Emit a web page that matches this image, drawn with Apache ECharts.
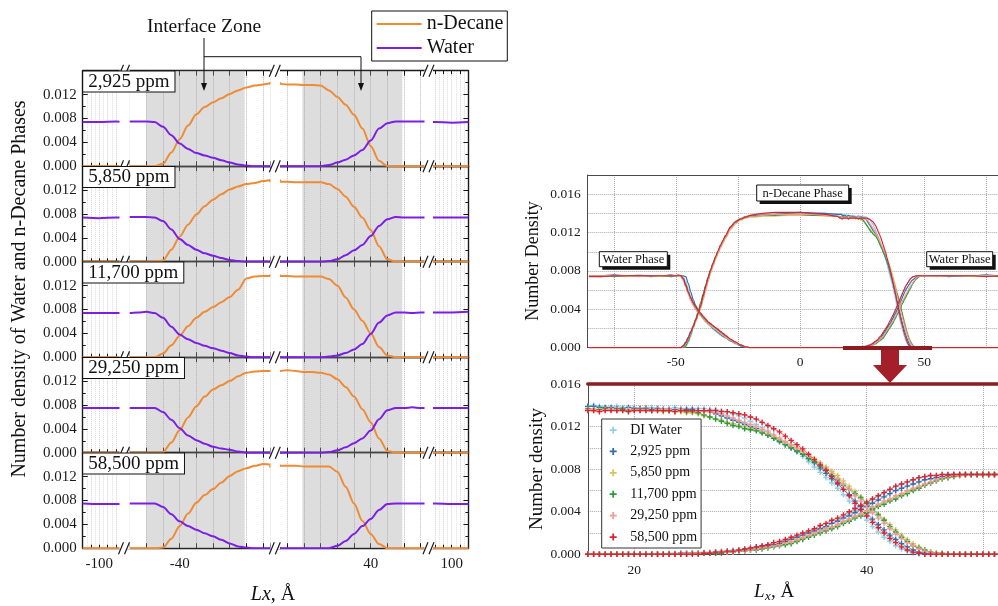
<!DOCTYPE html>
<html>
<head>
<meta charset="utf-8">
<script src="https://cdn.jsdelivr.net/npm/echarts@6.0.0/dist/echarts.min.js"></script>
<style>
  html, body { margin: 0; padding: 0; background: #fff; }
  #c { width: 998px; height: 606px; }
</style>
</head>
<body>
<div id="c"></div>
<script>
// ---------------- Left figure: density profiles per salinity ----------------
const panelLabels = ['2,925 ppm', '5,850 ppm', '11,700 ppm', '29,250 ppm', '58,500 ppm'];
const lxTickLabels = [-100, -40, 40, 100];
const interfaceZones = [[-50, -20.5], [19.5, 49.5]];

// Lx positions (Å): outer-left, middle-left, middle-right, outer-right pieces of the broken axis
const lxPos = [
  -105, -100, -95, -92.5,
  -55, -52.5, -50, -47.5, -45, -42.5, -40, -37.5, -35, -32.5, -30, -27.5, -25, -22.5, -20, -17.5, -15, -12.5, -10,
  10, 12.5, 15, 17.5, 20, 22.5, 25, 27.5, 30, 32.5, 35, 37.5, 40, 42.5, 45, 47.5, 50, 52.5, 55, 57.5,
  92.5, 95, 100, 105
];

const panelDecane = [
  [0, 0, 0, 0,
   0, 0, 0, 0, 0.0004, 0.0023, 0.0045, 0.0068, 0.0087, 0.0099, 0.0107, 0.0114, 0.0121, 0.0127, 0.0132, 0.0135, 0.0137, 0.0139, 0.0139,
   0.0139, 0.0138, 0.0137, 0.0137, 0.0136, 0.0136, 0.0135, 0.0127, 0.0116, 0.0103, 0.0086, 0.0063, 0.0034, 0.0009, 0, 0, 0, 0, 0, 0,
   0, 0, 0, 0],
  [0, 0, 0, 0,
   0, 0, 0, 0, 0.0002, 0.0020, 0.0042, 0.0062, 0.0079, 0.0093, 0.0104, 0.0113, 0.0121, 0.0126, 0.0130, 0.0132, 0.0135, 0.0137, 0.0136,
   0.0135, 0.0134, 0.0134, 0.0133, 0.0133, 0.0133, 0.0133, 0.0130, 0.0122, 0.0109, 0.0092, 0.0074, 0.0053, 0.0026, 0.0004, 0, 0, 0, 0, 0,
   0, 0, 0, 0],
  [0, 0, 0, 0,
   0, 0, 0, 0, 0.0006, 0.0020, 0.0036, 0.0052, 0.0066, 0.0076, 0.0084, 0.0092, 0.0101, 0.0113, 0.0132, 0.0135, 0.0136, 0.0136, 0.0137,
   0.0137, 0.0136, 0.0136, 0.0135, 0.0135, 0.0135, 0.0135, 0.0131, 0.0120, 0.0100, 0.0080, 0.0061, 0.0040, 0.0017, 0.0003, 0, 0, 0, 0, 0,
   0, 0, 0, 0],
  [0, 0, 0, 0,
   0, 0, 0, 0, 0.0001, 0.0017, 0.0038, 0.0059, 0.0078, 0.0094, 0.0106, 0.0113, 0.0120, 0.0128, 0.0134, 0.0136, 0.0137, 0.0137, 0.0137,
   0.0137, 0.0137, 0.0138, 0.0137, 0.0135, 0.0135, 0.0134, 0.0131, 0.0123, 0.0110, 0.0094, 0.0073, 0.0051, 0.0024, 0.0003, 0, 0, 0, 0, 0,
   0, 0, 0, 0],
  [0, 0, 0, 0,
   0, 0, 0, 0, 0.0001, 0.0016, 0.0037, 0.0058, 0.0076, 0.0089, 0.0099, 0.0110, 0.0121, 0.0129, 0.0134, 0.0138, 0.0141, 0.0140, 0.0138,
   0.0137, 0.0138, 0.0138, 0.0138, 0.0137, 0.0137, 0.0137, 0.0137, 0.0128, 0.0103, 0.0075, 0.0046, 0.0024, 0.0007, 0, 0, 0, 0, 0, 0,
   0, 0, 0, 0]
];

const panelWater = [
  [0.0074, 0.0074, 0.0075, 0.0074,
   0.0075, 0.0075, 0.0075, 0.0074, 0.0066, 0.0052, 0.0038, 0.0029, 0.0022, 0.0018, 0.0014, 0.0010, 0.0006, 0.0003, 0.0001, 0, 0, 0, 0,
   0, 0, 0, 0, 0, 0, 0, 0.0002, 0.0006, 0.0011, 0.0018, 0.0027, 0.0043, 0.0063, 0.0072, 0.0075, 0.0075, 0.0075, 0.0075, 0.0075,
   0.0074, 0.0074, 0.0073, 0.0074],
  [0.0074, 0.0073, 0.0074, 0.0074,
   0.0075, 0.0075, 0.0075, 0.0074, 0.0068, 0.0054, 0.0038, 0.0028, 0.0020, 0.0014, 0.0010, 0.0006, 0.0003, 0.0001, 0, 0, 0, 0, 0,
   0, 0, 0, 0, 0, 0, 0, 0.0001, 0.0004, 0.0011, 0.0019, 0.0028, 0.0043, 0.0060, 0.0071, 0.0075, 0.0074, 0.0074, 0.0074, 0.0074,
   0.0074, 0.0074, 0.0074, 0.0074],
  [0.0074, 0.0074, 0.0074, 0.0074,
   0.0074, 0.0075, 0.0076, 0.0074, 0.0066, 0.0051, 0.0038, 0.0030, 0.0024, 0.0019, 0.0015, 0.0011, 0.0007, 0.0003, 0.0001, 0, 0, 0, 0,
   0, 0, 0, 0, 0, 0, 0, 0.0001, 0.0003, 0.0007, 0.0013, 0.0022, 0.0039, 0.0058, 0.0070, 0.0075, 0.0075, 0.0074, 0.0075, 0.0075,
   0.0075, 0.0075, 0.0075, 0.0076],
  [0.0075, 0.0075, 0.0075, 0.0075,
   0.0075, 0.0075, 0.0075, 0.0075, 0.0068, 0.0055, 0.0041, 0.0029, 0.0021, 0.0015, 0.0010, 0.0007, 0.0005, 0.0002, 0, 0, 0, 0, 0,
   0, 0, 0, 0, 0, 0, 0, 0.0001, 0.0004, 0.0009, 0.0016, 0.0024, 0.0037, 0.0056, 0.0071, 0.0075, 0.0075, 0.0076, 0.0075, 0.0075,
   0.0075, 0.0075, 0.0075, 0.0075],
  [0.0075, 0.0074, 0.0074, 0.0074,
   0.0075, 0.0075, 0.0075, 0.0075, 0.0069, 0.0057, 0.0045, 0.0037, 0.0031, 0.0025, 0.0020, 0.0014, 0.0008, 0.0003, 0.0001, 0, 0, 0, 0,
   0, 0, 0, 0, 0, 0, 0, 0, 0.0004, 0.0012, 0.0024, 0.0037, 0.0049, 0.0064, 0.0074, 0.0075, 0.0075, 0.0075, 0.0075, 0.0075,
   0.0075, 0.0075, 0.0074, 0.0074]
];

// ---------------- Right figure: all salinities overlaid ----------------
const seriesNames = ['DI Water', '2,925 ppm', '5,850 ppm', '11,700 ppm', '29,250 ppm', '58,500 ppm'];
const seriesColors = ['#92cfe6', '#2f6db5', '#d8c25e', '#2a9a3c', '#f09a98', '#d9232f'];

const xLeft = [-85, -80, -75, -70, -65, -60, -55, -52, -50,
  -49, -48, -47, -46, -45, -44, -43, -42, -41, -40,
  -39, -38, -37, -36, -35, -34, -33, -32, -31, -30,
  -28, -26, -24, -22, -20, -18,
  -15, -10, -5, 0, 5, 10, 15];
const xZoom = [
  16, 16.5, 17, 17.5, 18, 18.5, 19, 19.5, 20, 20.5,
  21, 21.5, 22, 22.5, 23, 23.5, 24, 24.5, 25, 25.5,
  26, 26.5, 27, 27.5, 28, 28.5, 29, 29.5, 30, 30.5,
  31, 31.5, 32, 32.5, 33, 33.5, 34, 34.5, 35, 35.5,
  36, 36.5, 37, 37.5, 38, 38.5, 39, 39.5, 40, 40.5,
  41, 41.5, 42, 42.5, 43, 43.5, 44, 44.5, 45, 45.5,
  46, 46.5, 47, 47.5, 48, 48.5, 49, 49.5, 50, 50.5, 51, 51.5, 52];
const xTail = [55, 60, 65, 70, 75, 80, 85];

const decaneLeft = [
  [0, 0, 0, 0, 0, 0, 0, 0, 0,
   0, 0, 0, 0.0001, 0.0005, 0.0012, 0.0020, 0.0028, 0.0036, 0.0045,
   0.0055, 0.0065, 0.0074, 0.0082, 0.0089, 0.0095, 0.0101, 0.0107, 0.0112, 0.0117,
   0.0126, 0.0132, 0.0135, 0.0137, 0.0138, 0.0138,
   0.0139, 0.0139, 0.0140, 0.0140, 0.0141, 0.0140, 0.0139],
  [0, 0, 0, 0, 0, 0, 0, 0, 0,
   0, 0, 0.0002, 0.0006, 0.0011, 0.0017, 0.0023, 0.0029, 0.0035, 0.0043,
   0.0053, 0.0063, 0.0072, 0.0080, 0.0087, 0.0094, 0.0100, 0.0106, 0.0111, 0.0116,
   0.0125, 0.0131, 0.0134, 0.0136, 0.0137, 0.0138,
   0.0138, 0.0139, 0.0140, 0.0141, 0.0140, 0.0140, 0.0139],
  [0, 0, 0, 0, 0, 0, 0, 0, 0,
   0, 0, 0.0001, 0.0004, 0.0008, 0.0014, 0.0021, 0.0027, 0.0034, 0.0041,
   0.0050, 0.0060, 0.0069, 0.0078, 0.0085, 0.0092, 0.0098, 0.0104, 0.0109, 0.0114,
   0.0123, 0.0129, 0.0133, 0.0135, 0.0136, 0.0136,
   0.0137, 0.0137, 0.0138, 0.0138, 0.0138, 0.0137, 0.0137],
  [0, 0, 0, 0, 0, 0, 0, 0, 0,
   0, 0, 0, 0.0002, 0.0007, 0.0014, 0.0022, 0.0030, 0.0038, 0.0047,
   0.0056, 0.0065, 0.0073, 0.0081, 0.0088, 0.0094, 0.0100, 0.0106, 0.0111, 0.0116,
   0.0125, 0.0131, 0.0134, 0.0136, 0.0137, 0.0137,
   0.0138, 0.0138, 0.0139, 0.0139, 0.0138, 0.0138, 0.0137],
  [0, 0, 0, 0, 0, 0, 0, 0, 0,
   0, 0, 0.0001, 0.0004, 0.0009, 0.0015, 0.0022, 0.0028, 0.0035, 0.0042,
   0.0051, 0.0061, 0.0070, 0.0079, 0.0086, 0.0093, 0.0099, 0.0105, 0.0110, 0.0115,
   0.0124, 0.0130, 0.0134, 0.0136, 0.0137, 0.0137,
   0.0138, 0.0139, 0.0139, 0.0139, 0.0139, 0.0138, 0.0137],
  [0, 0, 0, 0, 0, 0, 0, 0, 0,
   0, 0, 0.0002, 0.0005, 0.0010, 0.0016, 0.0022, 0.0029, 0.0036, 0.0044,
   0.0054, 0.0064, 0.0073, 0.0081, 0.0088, 0.0095, 0.0101, 0.0107, 0.0112, 0.0117,
   0.0126, 0.0131, 0.0134, 0.0136, 0.0138, 0.0139,
   0.0140, 0.0141, 0.0141, 0.0141, 0.0140, 0.0139, 0.0137]
];

const waterLeft = [
  [0.0075, 0.0074, 0.0075, 0.0075, 0.0076, 0.0075, 0.0075, 0.0075, 0.0075,
   0.0075, 0.0075, 0.0074, 0.0069, 0.0061, 0.0053, 0.0047, 0.0042, 0.0038, 0.0034,
   0.0030, 0.0027, 0.0024, 0.0022, 0.0019, 0.0017, 0.0015, 0.0013, 0.0011, 0.0010,
   0.0007, 0.0004, 0.0002, 0.0001, 0, 0,
   0, 0, 0, 0, 0, 0, 0],
  [0.0075, 0.0075, 0.0076, 0.0075, 0.0075, 0.0074, 0.0075, 0.0076, 0.0075,
   0.0075, 0.0075, 0.0075, 0.0074, 0.0067, 0.0058, 0.0050, 0.0044, 0.0039, 0.0035,
   0.0031, 0.0028, 0.0025, 0.0023, 0.0020, 0.0018, 0.0016, 0.0014, 0.0012, 0.0011,
   0.0007, 0.0005, 0.0002, 0.0001, 0, 0,
   0, 0, 0, 0, 0, 0, 0],
  [0.0074, 0.0075, 0.0075, 0.0074, 0.0075, 0.0075, 0.0074, 0.0075, 0.0075,
   0.0075, 0.0074, 0.0071, 0.0064, 0.0057, 0.0050, 0.0045, 0.0041, 0.0037, 0.0034,
   0.0031, 0.0028, 0.0026, 0.0023, 0.0021, 0.0019, 0.0017, 0.0015, 0.0013, 0.0011,
   0.0008, 0.0005, 0.0003, 0.0001, 0, 0,
   0, 0, 0, 0, 0, 0, 0],
  [0.0075, 0.0075, 0.0074, 0.0075, 0.0075, 0.0075, 0.0075, 0.0074, 0.0075,
   0.0075, 0.0075, 0.0072, 0.0066, 0.0058, 0.0051, 0.0046, 0.0041, 0.0037, 0.0034,
   0.0031, 0.0029, 0.0026, 0.0024, 0.0022, 0.0020, 0.0018, 0.0016, 0.0014, 0.0012,
   0.0008, 0.0005, 0.0003, 0.0001, 0, 0,
   0, 0, 0, 0, 0, 0, 0],
  [0.0075, 0.0075, 0.0075, 0.0075, 0.0074, 0.0075, 0.0075, 0.0075, 0.0075,
   0.0075, 0.0074, 0.0070, 0.0063, 0.0056, 0.0049, 0.0044, 0.0040, 0.0036, 0.0033,
   0.0030, 0.0027, 0.0025, 0.0023, 0.0021, 0.0019, 0.0017, 0.0015, 0.0013, 0.0011,
   0.0008, 0.0005, 0.0003, 0.0001, 0, 0,
   0, 0, 0, 0, 0, 0, 0],
  [0.0074, 0.0074, 0.0075, 0.0075, 0.0075, 0.0075, 0.0075, 0.0075, 0.0075,
   0.0076, 0.0075, 0.0072, 0.0065, 0.0058, 0.0052, 0.0047, 0.0043, 0.0039, 0.0036,
   0.0033, 0.0030, 0.0027, 0.0025, 0.0023, 0.0021, 0.0019, 0.0017, 0.0015, 0.0013,
   0.0009, 0.0006, 0.0003, 0.0001, 0, 0,
   0, 0, 0, 0, 0, 0, 0]
];

const decaneZoom = [
  [0.0139, 0.0140, 0.0139, 0.0138, 0.0138, 0.0139, 0.0138, 0.0138, 0.0138, 0.0137,
   0.0138, 0.0138, 0.0137, 0.0137, 0.0137, 0.0138, 0.0137, 0.0137, 0.0137, 0.0137,
   0.0137, 0.0136, 0.0136, 0.0135, 0.0134, 0.0132, 0.0130, 0.0128, 0.0125, 0.0122,
   0.0119, 0.0116, 0.0112, 0.0108, 0.0104, 0.0100, 0.0096, 0.0092, 0.0087, 0.0082,
   0.0077, 0.0072, 0.0067, 0.0062, 0.0056, 0.0050, 0.0044, 0.0038, 0.0032, 0.0026,
   0.0021, 0.0016, 0.0012, 0.0008, 0.0005, 0.0003, 0.0001, 0, 0, 0,
   0, 0, 0, 0, 0, 0, 0, 0, 0, 0, 0, 0, 0],
  [0.0139, 0.0139, 0.0138, 0.0138, 0.0138, 0.0137, 0.0137, 0.0138, 0.0137, 0.0137,
   0.0137, 0.0136, 0.0137, 0.0136, 0.0136, 0.0136, 0.0136, 0.0136, 0.0136, 0.0135,
   0.0135, 0.0134, 0.0132, 0.0130, 0.0128, 0.0126, 0.0124, 0.0122, 0.0120, 0.0118,
   0.0115, 0.0112, 0.0109, 0.0106, 0.0103, 0.0100, 0.0097, 0.0094, 0.0090, 0.0086,
   0.0081, 0.0076, 0.0071, 0.0066, 0.0061, 0.0056, 0.0050, 0.0045, 0.0039, 0.0033,
   0.0028, 0.0023, 0.0018, 0.0014, 0.0010, 0.0007, 0.0004, 0.0002, 0.0001, 0,
   0, 0, 0, 0, 0, 0, 0, 0, 0, 0, 0, 0, 0],
  [0.0136, 0.0135, 0.0136, 0.0136, 0.0136, 0.0135, 0.0136, 0.0135, 0.0135, 0.0135,
   0.0135, 0.0135, 0.0135, 0.0134, 0.0135, 0.0134, 0.0134, 0.0133, 0.0133, 0.0132,
   0.0130, 0.0129, 0.0127, 0.0126, 0.0124, 0.0123, 0.0121, 0.0120, 0.0118, 0.0117,
   0.0115, 0.0113, 0.0110, 0.0108, 0.0105, 0.0102, 0.0099, 0.0096, 0.0093, 0.0090,
   0.0086, 0.0082, 0.0078, 0.0074, 0.0069, 0.0064, 0.0059, 0.0054, 0.0049, 0.0043,
   0.0038, 0.0033, 0.0028, 0.0023, 0.0018, 0.0014, 0.0010, 0.0007, 0.0004, 0.0002,
   0.0001, 0, 0, 0, 0, 0, 0, 0, 0, 0, 0, 0, 0],
  [0.0137, 0.0136, 0.0136, 0.0137, 0.0136, 0.0136, 0.0136, 0.0135, 0.0136, 0.0136,
   0.0136, 0.0135, 0.0136, 0.0135, 0.0135, 0.0135, 0.0135, 0.0134, 0.0134, 0.0133,
   0.0131, 0.0129, 0.0127, 0.0125, 0.0123, 0.0121, 0.0120, 0.0118, 0.0117, 0.0116,
   0.0114, 0.0112, 0.0109, 0.0106, 0.0103, 0.0100, 0.0097, 0.0094, 0.0090, 0.0087,
   0.0083, 0.0079, 0.0074, 0.0070, 0.0065, 0.0061, 0.0057, 0.0053, 0.0048, 0.0043,
   0.0037, 0.0032, 0.0026, 0.0021, 0.0016, 0.0012, 0.0008, 0.0006, 0.0004, 0.0002,
   0.0001, 0.0001, 0, 0, 0, 0, 0, 0, 0, 0, 0, 0, 0],
  [0.0136, 0.0136, 0.0135, 0.0136, 0.0136, 0.0136, 0.0135, 0.0136, 0.0136, 0.0136,
   0.0136, 0.0135, 0.0136, 0.0136, 0.0136, 0.0135, 0.0136, 0.0135, 0.0135, 0.0135,
   0.0134, 0.0134, 0.0133, 0.0132, 0.0130, 0.0128, 0.0126, 0.0124, 0.0122, 0.0120,
   0.0117, 0.0115, 0.0112, 0.0109, 0.0106, 0.0103, 0.0100, 0.0097, 0.0093, 0.0089,
   0.0085, 0.0081, 0.0076, 0.0071, 0.0066, 0.0061, 0.0055, 0.0050, 0.0044, 0.0039,
   0.0034, 0.0029, 0.0024, 0.0019, 0.0015, 0.0011, 0.0008, 0.0005, 0.0003, 0.0002,
   0.0001, 0, 0, 0, 0, 0, 0, 0, 0, 0, 0, 0, 0],
  [0.0135, 0.0135, 0.0134, 0.0135, 0.0135, 0.0135, 0.0135, 0.0134, 0.0135, 0.0135,
   0.0135, 0.0135, 0.0135, 0.0135, 0.0135, 0.0134, 0.0135, 0.0135, 0.0135, 0.0135,
   0.0135, 0.0135, 0.0135, 0.0134, 0.0134, 0.0133, 0.0132, 0.0131, 0.0129, 0.0127,
   0.0124, 0.0121, 0.0118, 0.0115, 0.0111, 0.0107, 0.0103, 0.0099, 0.0094, 0.0089,
   0.0084, 0.0079, 0.0073, 0.0067, 0.0061, 0.0055, 0.0048, 0.0042, 0.0036, 0.0030,
   0.0025, 0.0020, 0.0015, 0.0011, 0.0007, 0.0004, 0.0002, 0.0001, 0, 0,
   0, 0, 0, 0, 0, 0, 0, 0, 0, 0, 0, 0, 0]
];

const waterZoom = [
  [0, 0, 0, 0, 0, 0, 0, 0, 0, 0,
   0, 0, 0, 0, 0.0001, 0.0001, 0.0001, 0.0001, 0.0001, 0.0001,
   0.0002, 0.0002, 0.0002, 0.0003, 0.0003, 0.0004, 0.0004, 0.0005, 0.0005, 0.0006,
   0.0007, 0.0008, 0.0009, 0.0010, 0.0012, 0.0014, 0.0016, 0.0018, 0.0020, 0.0022,
   0.0024, 0.0026, 0.0029, 0.0032, 0.0035, 0.0038, 0.0041, 0.0044, 0.0048, 0.0052,
   0.0055, 0.0058, 0.0061, 0.0064, 0.0066, 0.0068, 0.0070, 0.0072, 0.0073, 0.0074,
   0.0074, 0.0075, 0.0075, 0.0075, 0.0075, 0.0075, 0.0075, 0.0075, 0.0075, 0.0075, 0.0075, 0.0075, 0.0075],
  [0, 0, 0, 0, 0, 0, 0, 0, 0, 0,
   0, 0, 0, 0, 0, 0, 0.0001, 0.0001, 0.0001, 0.0001,
   0.0001, 0.0001, 0.0002, 0.0002, 0.0002, 0.0002, 0.0003, 0.0004, 0.0005, 0.0006,
   0.0007, 0.0008, 0.0009, 0.0010, 0.0012, 0.0014, 0.0016, 0.0018, 0.0020, 0.0022,
   0.0024, 0.0026, 0.0029, 0.0031, 0.0034, 0.0036, 0.0039, 0.0042, 0.0045, 0.0048,
   0.0051, 0.0054, 0.0057, 0.0060, 0.0062, 0.0064, 0.0066, 0.0068, 0.0070, 0.0071,
   0.0072, 0.0073, 0.0074, 0.0075, 0.0075, 0.0075, 0.0075, 0.0075, 0.0075, 0.0075, 0.0075, 0.0075, 0.0075],
  [0, 0, 0, 0, 0, 0, 0, 0, 0, 0,
   0, 0, 0, 0, 0, 0, 0, 0, 0.0001, 0.0001,
   0.0001, 0.0001, 0.0001, 0.0002, 0.0002, 0.0002, 0.0003, 0.0003, 0.0004, 0.0005,
   0.0006, 0.0007, 0.0008, 0.0009, 0.0010, 0.0011, 0.0013, 0.0015, 0.0017, 0.0019,
   0.0021, 0.0023, 0.0025, 0.0028, 0.0030, 0.0033, 0.0035, 0.0038, 0.0040, 0.0043,
   0.0046, 0.0049, 0.0051, 0.0054, 0.0056, 0.0059, 0.0061, 0.0063, 0.0065, 0.0067,
   0.0069, 0.0071, 0.0072, 0.0073, 0.0074, 0.0075, 0.0075, 0.0075, 0.0075, 0.0075, 0.0075, 0.0075, 0.0075],
  [0, 0, 0, 0, 0, 0, 0, 0, 0, 0,
   0, 0, 0, 0, 0, 0, 0, 0, 0.0001, 0.0001,
   0.0001, 0.0001, 0.0001, 0.0001, 0.0002, 0.0002, 0.0003, 0.0003, 0.0004, 0.0004,
   0.0005, 0.0006, 0.0007, 0.0008, 0.0009, 0.0010, 0.0012, 0.0014, 0.0016, 0.0018,
   0.0020, 0.0022, 0.0024, 0.0026, 0.0029, 0.0031, 0.0034, 0.0036, 0.0039, 0.0042,
   0.0045, 0.0047, 0.0050, 0.0052, 0.0055, 0.0057, 0.0060, 0.0062, 0.0065, 0.0067,
   0.0069, 0.0071, 0.0072, 0.0073, 0.0074, 0.0075, 0.0075, 0.0075, 0.0075, 0.0075, 0.0075, 0.0075, 0.0075],
  [0, 0, 0, 0, 0, 0, 0, 0, 0, 0,
   0, 0, 0, 0, 0, 0, 0, 0.0001, 0.0001, 0.0001,
   0.0001, 0.0001, 0.0002, 0.0002, 0.0002, 0.0002, 0.0003, 0.0003, 0.0004, 0.0005,
   0.0006, 0.0007, 0.0008, 0.0009, 0.0011, 0.0012, 0.0014, 0.0016, 0.0018, 0.0020,
   0.0022, 0.0024, 0.0026, 0.0028, 0.0031, 0.0033, 0.0036, 0.0038, 0.0041, 0.0044,
   0.0047, 0.0050, 0.0052, 0.0055, 0.0057, 0.0060, 0.0062, 0.0064, 0.0066, 0.0068,
   0.0070, 0.0072, 0.0073, 0.0074, 0.0074, 0.0075, 0.0075, 0.0075, 0.0075, 0.0075, 0.0075, 0.0075, 0.0075],
  [0, 0, 0, 0, 0, 0, 0, 0, 0, 0,
   0, 0, 0, 0, 0, 0, 0, 0, 0, 0,
   0.0001, 0.0001, 0.0002, 0.0002, 0.0003, 0.0003, 0.0004, 0.0005, 0.0006, 0.0007,
   0.0008, 0.0009, 0.0011, 0.0012, 0.0014, 0.0016, 0.0018, 0.0020, 0.0022, 0.0024,
   0.0027, 0.0029, 0.0032, 0.0034, 0.0037, 0.0040, 0.0043, 0.0046, 0.0049, 0.0052,
   0.0055, 0.0058, 0.0061, 0.0064, 0.0066, 0.0068, 0.0070, 0.0072, 0.0073, 0.0074,
   0.0074, 0.0075, 0.0075, 0.0075, 0.0075, 0.0075, 0.0075, 0.0075, 0.0075, 0.0075, 0.0075, 0.0075, 0.0075]
];

const decaneTail = [
  [0, 0, 0, 0, 0, 0, 0], [0, 0, 0, 0, 0, 0, 0], [0, 0, 0, 0, 0, 0, 0],
  [0, 0, 0, 0, 0, 0, 0], [0, 0, 0, 0, 0, 0, 0], [0, 0, 0, 0, 0, 0, 0]
];
const waterTail = [
  [0.0075, 0.0075, 0.0074, 0.0075, 0.0075, 0.0075, 0.0075],
  [0.0075, 0.0074, 0.0075, 0.0075, 0.0076, 0.0075, 0.0075],
  [0.0075, 0.0075, 0.0075, 0.0074, 0.0075, 0.0075, 0.0074],
  [0.0075, 0.0075, 0.0075, 0.0075, 0.0075, 0.0074, 0.0075],
  [0.0074, 0.0075, 0.0075, 0.0075, 0.0075, 0.0075, 0.0075],
  [0.0075, 0.0075, 0.0075, 0.0075, 0.0074, 0.0075, 0.0075]
];

const overviewXTicks = [-75, -50, -25, 0, 25, 50, 75];
const overviewXLabels = [-50, 0, 50];
const zoomXTicks = [20, 30, 40, 50];
const zoomXLabels = [20, 40];

// ---------------- Layout & styling ----------------
const SERIF = '"Liberation Serif", "Times New Roman", serif';
const ORANGE = '#EE8B36';
const PURPLE = '#7A1FE3';
const INK = '#1a1a1a';
const PLUS = 'path://M3,0h2v3h3v2h-3v3h-2v-3h-3v-2h3z';

const PX_PER_A = 3.333;
const FRAME_L = 82.7, FRAME_W = 385.7, PANEL_TOP = 70.7, PANEL_H = 95.5;
const segments = [
  { min: -105, max: -92.5, step: 2.5, left: 82.7, outer: true },
  { min: -55, max: -10, step: 5, left: 129.7, zone: 0 },
  { min: 10, max: 57.5, step: 5, left: 270.7, zone: 1 },
  { min: 92.5, max: 105, step: 2.5, left: 426.7, outer: true }
];

const grid = [], xAxis = [], yAxis = [], series = [];
const txt = { fontFamily: SERIF, color: INK };
const frameLine = { show: true, onZero: false, lineStyle: { color: INK, width: 1.4 } };
const addGrid = g => { grid.push(Object.assign({ outerBoundsMode: 'none', containLabel: false }, g)); return grid.length - 1; };

panelLabels.forEach((label, p) => {
  const top = PANEL_TOP + p * PANEL_H;

  // frame grid carrying the box and the density axis
  const fg = addGrid({ left: FRAME_L, top, width: FRAME_W, height: PANEL_H });
  ['bottom', 'top'].forEach(pos => xAxis.push({
    gridIndex: fg, type: 'value', min: 0, max: 1, position: pos,
    axisLine: frameLine, axisTick: { show: false }, axisLabel: { show: false }, splitLine: { show: false }
  }));
  ['left', 'right'].forEach(pos => yAxis.push({
    gridIndex: fg, type: 'value', min: 0, max: 0.016, interval: 0.004, position: pos,
    axisLine: frameLine,
    axisTick: { show: true, inside: true, length: 5, lineStyle: { color: INK } },
    minorTick: { show: true, splitNumber: 2, length: 3, lineStyle: { color: INK } },
    splitLine: { show: false },
    axisLabel: pos === 'left'
      ? Object.assign({ show: true, fontSize: 15, margin: 6, showMaxLabel: false, formatter: v => v.toFixed(3) }, txt)
      : { show: false }
  }));

  // one grid per piece of the broken Lx axis
  segments.forEach(s => {
    const gi = addGrid({ left: s.left, top, width: (s.max - s.min) * PX_PER_A, height: PANEL_H });
    const tick = { show: true, inside: true, length: s.outer ? 3.5 : 5, lineStyle: { color: INK } };
    const xb = xAxis.length;
    xAxis.push({
      gridIndex: gi, type: 'value', min: s.min, max: s.max, interval: s.step, position: 'bottom',
      axisLine: { show: false, onZero: false }, axisTick: tick,
      axisLabel: Object.assign({
        show: p === panelLabels.length - 1, fontSize: 15, margin: 8,
        formatter: v => (lxTickLabels.includes(v) ? String(v) : '')
      }, txt),
      splitLine: { show: true, lineStyle: { color: s.outer ? '#d2d2d2' : '#bababa', type: 'dotted' } },
      minorSplitLine: { show: !!s.outer, lineStyle: { color: '#dddddd', type: 'dotted' } },
      minorTick: { show: false, splitNumber: 2 }
    });
    xAxis.push({
      gridIndex: gi, type: 'value', min: s.min, max: s.max, interval: s.step, position: 'top',
      axisLine: { show: false, onZero: false }, axisTick: tick,
      axisLabel: { show: false }, splitLine: { show: false }
    });
    const yi = yAxis.length;
    yAxis.push({ gridIndex: gi, type: 'value', min: 0, max: 0.016, show: false });

    const common = {
      type: 'line', xAxisIndex: xb, yAxisIndex: yi, showSymbol: false, smooth: 0.3,
      smoothMonotone: 'x', silent: true, z: 3
    };
    const decane = Object.assign({}, common, {
      name: 'n-Decane', color: ORANGE, lineStyle: { color: ORANGE, width: 2 },
      data: lxPos.map((x, i) => [x, panelDecane[p][i]])
    });
    if (s.zone !== undefined) {
      const z = interfaceZones[s.zone];
      decane.markArea = {
        silent: true, itemStyle: { color: 'rgba(160,160,160,0.36)' },
        data: [[{ xAxis: z[0] }, { xAxis: z[1] }]]
      };
    }
    series.push(decane);
    series.push(Object.assign({}, common, {
      name: 'Water', color: PURPLE, lineStyle: { color: PURPLE, width: 2 },
      data: lxPos.map((x, i) => [x, panelWater[p][i]])
    }));
  });
});

const rightLine = { show: true, onZero: false, lineStyle: { color: '#4a4a4a' } };
const densityLabel = Object.assign({ fontSize: 13.5, margin: 7,
  formatter: v => (Math.round(v * 1000) % 4 === 0 ? v.toFixed(3) : '') }, txt);
const dotted = { show: true, lineStyle: { color: '#a9a9a9', type: 'dotted' } };

// overview chart (top right)
const og = addGrid({ left: 587.7, top: 175, width: 423.4, height: 172.7 });
const ox = xAxis.length;
xAxis.push({
  gridIndex: og, type: 'value', min: -85.5, max: 85, position: 'bottom',
  axisLine: rightLine, axisTick: { show: false, customValues: overviewXTicks },
  axisLabel: Object.assign({ customValues: overviewXLabels, fontSize: 13.5, margin: 8 }, txt),
  splitLine: dotted
});
xAxis.push({
  gridIndex: og, type: 'value', min: -85.5, max: 85, position: 'top',
  axisLine: rightLine, axisTick: { show: false }, axisLabel: { show: false }, splitLine: { show: false }
});
const oy = yAxis.length;
yAxis.push({
  gridIndex: og, type: 'value', min: 0, max: 0.018, interval: 0.002,
  axisLine: rightLine, axisTick: { show: false }, axisLabel: densityLabel, splitLine: dotted
});

// zoomed interface chart (bottom right)
const zg = addGrid({ left: 587.8, top: 384, width: 418.3, height: 170.3 });
const zx = xAxis.length;
xAxis.push({
  gridIndex: zg, type: 'value', min: 16, max: 52, position: 'bottom',
  axisLine: rightLine, axisTick: { show: false, customValues: zoomXTicks },
  axisLabel: Object.assign({ customValues: zoomXLabels, fontSize: 13.5, margin: 9 }, txt),
  splitLine: dotted
});
xAxis.push({
  gridIndex: zg, type: 'value', min: 16, max: 52, position: 'top',
  axisLine: { show: true, onZero: false, lineStyle: { color: '#8c1c22', width: 3.5 } }, axisTick: { show: false },
  axisLabel: { show: false }, splitLine: { show: false }
});
const zy = yAxis.length;
yAxis.push({
  gridIndex: zg, type: 'value', min: 0, max: 0.016, interval: 0.002,
  axisLine: rightLine, axisTick: { show: false }, axisLabel: densityLabel, splitLine: dotted
});

const pairs = (xs, vs) => xs.map((x, i) => [x, vs[i]]);
seriesNames.forEach((name, k) => {
  const c = seriesColors[k];
  const full = (left, zoom, tail) => pairs(xLeft, left[k]).concat(pairs(xZoom, zoom[k]), pairs(xTail, tail[k]));
  [full(decaneLeft, decaneZoom, decaneTail), full(waterLeft, waterZoom, waterTail)].forEach(d => series.push({
    type: 'line', name, xAxisIndex: ox, yAxisIndex: oy, data: d, color: c,
    showSymbol: false, smooth: 0.3, smoothMonotone: 'x', silent: true,
    lineStyle: { color: c, width: 1.2 }
  }));
  [decaneZoom, waterZoom].forEach(v => series.push({
    type: 'line', name, xAxisIndex: zx, yAxisIndex: zy, data: pairs(xZoom, v[k]), color: c,
    symbol: PLUS, symbolSize: 5.5, showAllSymbol: true, silent: true,
    itemStyle: { color: c }, lineStyle: { color: c, width: 0.7 }
  }));
});

// ---------------- Annotations ----------------
const graphics = [];
const masks = [[119.5, 129.7], [270.5, 280], [424.5, 433]];
const breakX = [124.5, 275.3, 429];
const plotBottom = PANEL_TOP + panelLabels.length * PANEL_H;
masks.forEach(m => graphics.push({
  type: 'rect', z: 50, silent: true,
  shape: { x: m[0], y: PANEL_TOP - 1, width: m[1] - m[0], height: plotBottom - PANEL_TOP + 2 },
  style: { fill: '#fff' }
}));
for (let p = 0; p <= panelLabels.length; p++) {
  const by = PANEL_TOP + p * PANEL_H;
  breakX.forEach(bx => {
    graphics.push({
      type: 'polygon', z: 51, silent: true,
      shape: { points: [[bx - 6, by + 6], [bx - 1, by - 6], [bx + 5, by - 6], [bx, by + 6]] },
      style: { fill: '#fff' }
    });
    [[-6, -1], [0, 5]].forEach(o => graphics.push({
      type: 'line', z: 52, silent: true,
      shape: { x1: bx + o[0], y1: by + 6, x2: bx + o[1], y2: by - 6 },
      style: { stroke: INK, lineWidth: 1.2 }
    }));
  });
}
panelLabels.forEach((label, p) => graphics.push({
  type: 'text', z: 60, silent: true,
  x: FRAME_L + 0.5, y: PANEL_TOP + p * PANEL_H + 0.7,
  style: {
    text: label, fontSize: 19, fontFamily: SERIF, fill: '#111',
    backgroundColor: '#fff', borderColor: '#111', borderWidth: 1, padding: [1, 5, 0, 5]
  }
}));

// axis titles
graphics.push({
  type: 'text', z: 60, silent: true, x: 20, y: 289, rotation: Math.PI / 2,
  style: { text: 'Number density of Water and n-Decane Phases', fontSize: 20, fontFamily: SERIF, fill: '#111',
    align: 'center', verticalAlign: 'middle' }
});
graphics.push({
  type: 'text', z: 60, silent: true, x: 273, y: 595,
  style: { text: '{i|Lx}, Å', fontSize: 20, fontFamily: SERIF, fill: '#111', align: 'center', verticalAlign: 'middle',
    rich: { i: { fontStyle: 'italic', fontSize: 20, fontFamily: SERIF, fill: '#111' } } }
});
graphics.push({
  type: 'text', z: 60, silent: true, x: 533, y: 261, rotation: Math.PI / 2,
  style: { text: 'Number Density', fontSize: 18, fontFamily: SERIF, fill: '#111', align: 'center', verticalAlign: 'middle' }
});
graphics.push({
  type: 'text', z: 60, silent: true, x: 537, y: 469, rotation: Math.PI / 2,
  style: { text: 'Number density', fontSize: 19, fontFamily: SERIF, fill: '#111', align: 'center', verticalAlign: 'middle' }
});
graphics.push({ type: 'text', z: 60, silent: true, x: 754, y: 592,
  style: { text: 'L', fontSize: 19, fontStyle: 'italic', fontFamily: SERIF, fill: '#111', verticalAlign: 'middle' } });
graphics.push({ type: 'text', z: 60, silent: true, x: 765, y: 597,
  style: { text: 'x', fontSize: 13, fontStyle: 'italic', fontFamily: SERIF, fill: '#111', verticalAlign: 'middle' } });
graphics.push({ type: 'text', z: 60, silent: true, x: 771, y: 592,
  style: { text: ', Å', fontSize: 19, fontFamily: SERIF, fill: '#111', verticalAlign: 'middle' } });

// interface zone callout
graphics.push({
  type: 'text', z: 60, silent: true, x: 204, y: 27,
  style: { text: 'Interface Zone', fontSize: 19.5, fontFamily: SERIF, fill: '#111', align: 'center', verticalAlign: 'middle' }
});
graphics.push({ type: 'polyline', z: 60, silent: true, shape: { points: [[204, 38], [204, 84]] }, style: { stroke: '#111', lineWidth: 1 } });
graphics.push({ type: 'polyline', z: 60, silent: true, shape: { points: [[204, 56.7], [361, 56.7], [361, 84]] }, style: { stroke: '#111', lineWidth: 1 } });
[204, 361].forEach(ax => graphics.push({
  type: 'polygon', z: 60, silent: true,
  shape: { points: [[ax - 3, 83], [ax + 3, 83], [ax, 91]] }, style: { fill: '#111' }
}));

// phase tags on the overview chart
const phaseTag = (x, y, w, h, t) => {
  graphics.push({ type: 'rect', z: 60, silent: true, shape: { x: x + 3, y: y + 3, width: w, height: h }, style: { fill: '#111' } });
  graphics.push({ type: 'rect', z: 61, silent: true, shape: { x, y, width: w, height: h }, style: { fill: '#fff', stroke: '#111', lineWidth: 1 } });
  graphics.push({ type: 'text', z: 62, silent: true, x: x + w / 2, y: y + h / 2 + 0.5,
    style: { text: t, fontSize: 12.5, fontFamily: SERIF, fill: '#111', align: 'center', verticalAlign: 'middle' } });
};
phaseTag(756.7, 185, 92, 16, 'n-Decane Phase');
phaseTag(599.3, 251.7, 68, 15, 'Water Phase');
phaseTag(926.7, 251.7, 66, 15, 'Water Phase');

// zoom window marker and arrow
graphics.push({ type: 'rect', z: 60, silent: true, shape: { x: 843, y: 346, width: 89, height: 4 }, style: { fill: '#8c1c22' } });
graphics.push({
  type: 'polygon', z: 60, silent: true,
  shape: { points: [[881, 350], [899, 350], [899, 365], [907, 365], [890, 383], [873, 365], [881, 365]] },
  style: { fill: '#a3202a' }
});

const option = {
  animation: false,
  backgroundColor: '#fff',
  textStyle: { fontFamily: SERIF },
  grid, xAxis, yAxis, series,
  legend: [
    {
      data: ['n-Decane', 'Water'], orient: 'vertical', left: 371.7, top: 11,
      padding: [3, 4, 3, 5], itemWidth: 45, itemHeight: 2, itemGap: 4, icon: 'rect',
      backgroundColor: '#fff', borderColor: '#111', borderWidth: 1, selectedMode: false,
      textStyle: { fontSize: 20, fontFamily: SERIF, color: '#111', lineHeight: 20 }
    },
    {
      data: seriesNames, orient: 'vertical', left: 601.7, top: 419,
      padding: [4, 4, 4, 8], itemWidth: 24, itemHeight: 7, itemGap: 7.4, icon: PLUS,
      backgroundColor: '#fff', borderColor: '#333', borderWidth: 1, selectedMode: false, z: 20,
      textStyle: { fontSize: 14, fontFamily: SERIF, color: '#111', lineHeight: 14 }
    }
  ],
  graphic: { elements: graphics }
};

const chart = echarts.init(document.getElementById('c'));
chart.setOption(option);
</script>
</body>
</html>
